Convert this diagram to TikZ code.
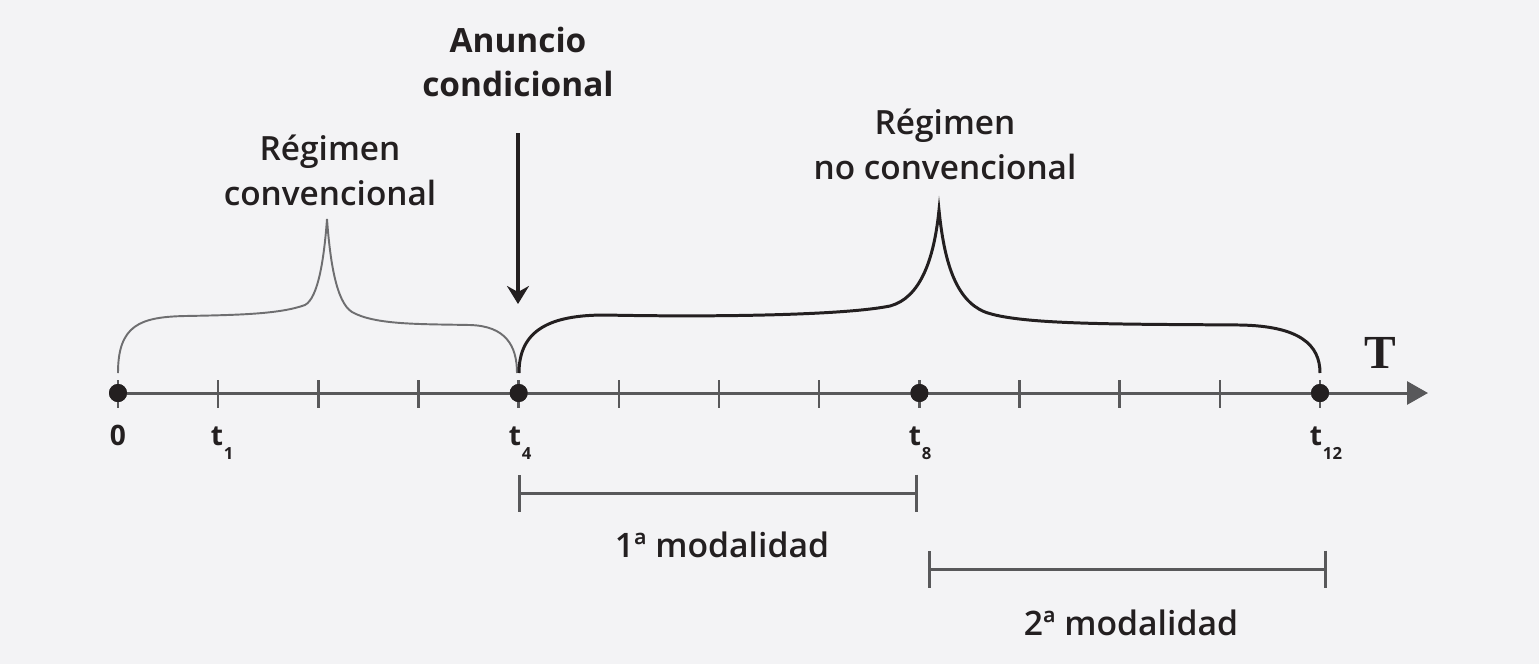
\documentclass[tikz,border=0pt]{standalone}
\usepackage{fontspec}
\setmainfont{Open Sans}
\newfontfamily\semib{Open Sans Semibold}
\newfontfamily\serifT{Liberation Serif}
\usetikzlibrary{arrows.meta,positioning,calc}
\definecolor{bgcol}{HTML}{F3F3F5}
\definecolor{ink}{HTML}{231F20}
\definecolor{axisgray}{HTML}{58585A}
\definecolor{bracegray}{HTML}{6E6E70}
\newcommand{\tsub}[1]{t\rlap{\kern0.5pt\raisebox{-8.5pt}{\fontsize{9.5}{9.5}\selectfont #1}}}

\begin{document}
\begin{tikzpicture}[
  x=0.02cm, y=-0.02cm,
  dot/.style={circle, fill=ink, inner sep=0pt, minimum size=0.36cm},
  tickmark/.style={draw=axisgray, line width=1.4pt},
  axisline/.style={draw=axisgray, line width=1.7pt, -{Triangle[length=0.42cm, width=0.46cm]}},
  lbl/.style={align=center, text=ink, font=\fontsize{19}{25.5}\selectfont\bfseries, inner sep=0pt},
  semilbl/.style={align=center, text=ink, font=\fontsize{19}{25.5}\selectfont\semib, inner sep=0pt},
  tlbl/.style={text=ink, font=\fontsize{16}{16}\selectfont\bfseries, inner sep=0pt, anchor=base},
  span/.style={draw=axisgray, line width=1.7pt, {Bar[width=0.74cm]}-{Bar[width=0.74cm]}},
  spanlbl/.style={text=ink, font=\fontsize{19.2}{24}\selectfont\semib, inner sep=0pt, anchor=base},
  arr/.style={-{Stealth[length=0.36cm, width=0.44cm, inset=0.12cm]}, line width=2.4pt, draw=ink}
]
  \useasboundingbox[fill=bgcol] (0,0) rectangle (1539,664);

  % Time axis with ticks
  \coordinate (tip) at (1428,393);
  \foreach \i in {0,...,12}
    \draw[tickmark] ({118+\i*100.17},380) -- ({118+\i*100.17},408);
  \node[dot] (p0) at (118,393) {};
  \node[dot] (p4) at (518.7,393) {};
  \node[dot] (p8) at (919.4,393) {};
  \node[dot] (p12) at (1320,393) {};
  \draw[axisline] (p0.center) -- (tip);
  \foreach \p in {p0,p4,p8,p12}
    \node[dot] at (\p) {};
  \node[font=\fontsize{27}{27}\selectfont\serifT\bfseries, text=ink, anchor=base] (T) at (1380,368) {T};

  % Axis labels
  \node[tlbl] (l0) at (118,445) {0};
  \node[tlbl] (l1) at (217,445) {\tsub{1}};
  \node[tlbl] (l4) at (515,445) {\tsub{4}};
  \node[tlbl] (l8) at (915,445) {\tsub{8}};
  \node[tlbl] (l12) at (1316,445) {\tsub{12}};

  % Braces
  \draw[bracegray, line width=1.1pt] (118,373) .. controls (118,325) and (140,317) .. (185,316)
    .. controls (240,315) and (280,314) .. (305,305) .. controls (318,298) and (324,260) .. (327,219)
    .. controls (330,260) and (336,302) .. (352,312) .. controls (375,325) and (420,324) .. (470,325)
    .. controls (505,326) and (517,345) .. (517,373);
  \draw[ink, line width=1.7pt] (519,373) .. controls (519,330) and (550,315) .. (605,315)
    .. controls (700,317) and (840,316) .. (890,306) .. controls (920,298) and (934,260) .. (939,210)
    .. controls (944,260) and (955,300) .. (985,312) .. controls (1020,325) and (1120,324) .. (1240,325)
    .. controls (1300,326) and (1320,345) .. (1320,373);

  % Regime labels
  \node[semilbl] (conv) at (330,170) {Régimen\\convencional};
  \node[semilbl] (noconv) at (945,144) {Régimen\\no convencional};

  % Announcement
  \node[lbl] (anun) at (518,62) {Anuncio\\condicional};
  \coordinate (a1) at (518,133);
  \coordinate (a2) at (518,304);
  \draw[arr] (a1) -- (a2);

  % Modalities
  \coordinate (m1a) at (518,493);
  \coordinate (m1b) at (918,493);
  \coordinate (m2a) at (928,569);
  \coordinate (m2b) at (1327,569);
  \draw[span] (m1a) -- (m1b);
  \draw[span] (m2a) -- (m2b);
  \node[spanlbl] (mod1) at (722,557) {1ª modalidad};
  \node[spanlbl] (mod2) at (1131,635) {2ª modalidad};
\end{tikzpicture}
\end{document}
